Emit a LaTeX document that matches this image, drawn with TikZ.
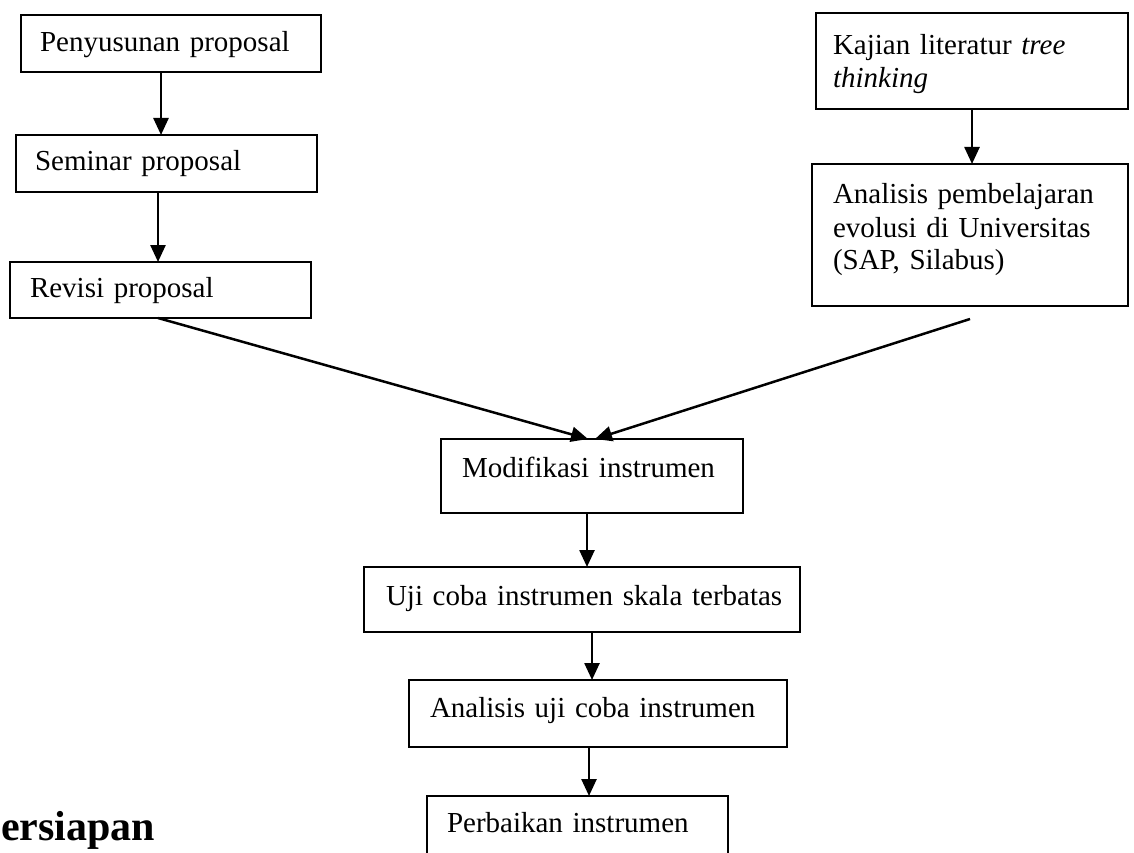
\documentclass[tikz,border=0pt]{standalone}
\usepackage{fontspec}
\setmainfont{Liberation Serif}
\usetikzlibrary{arrows.meta}

\tikzset{
  box/.style={draw, line width=1.6pt, anchor=north west, align=left,
    inner ysep=0pt, outer sep=0pt},
  arr/.style={line width=2.5pt, -{Triangle[length=17pt,width=15pt]}}
}

\begin{document}
\begin{tikzpicture}[x=1pt,y=-1pt,font=\fontsize{29}{33}\selectfont]
  \useasboundingbox (0,0) rectangle (1134,853);
  \clip (0,0) rectangle (1134,853);
  % left column
  \node[box, text width=262pt, inner xsep=19pt, text height=37pt, text depth=20pt] (pen) at (21,15) {Penyusunan proposal};
  \node[box, text width=263pt, inner xsep=19pt, text height=36pt, text depth=21pt] (sem) at (16,135) {Seminar proposal};
  \node[box, text width=261pt, inner xsep=20pt, text height=35pt, text depth=21pt] (rev) at (10,262) {Revisi proposal};
  % right column
  \node[box, text width=278pt, inner xsep=17pt, text height=42pt, text depth=54pt] (kaj) at (816,13) {Kajian literatur \textit{tree}\\\textit{thinking}};
  \node[box, text width=274pt, inner xsep=21pt, text height=40pt, text depth=102pt] (ana) at (812,164) {Analisis pembelajaran\\evolusi di Universitas\\(SAP, Silabus)};
  % middle column
  \node[box, text width=260pt, inner xsep=21pt, text height=38pt, text depth=36pt] (mod) at (441,439) {Modifikasi instrumen};
  \node[box, text width=392pt, inner xsep=22pt, text height=38pt, text depth=27pt] (uji) at (364,567) {\mbox{Uji coba instrumen skala terbatas}};
  \node[box, text width=336pt, inner xsep=21pt, text height=37pt, text depth=30pt] (aut) at (409,680) {Analisis uji coba instrumen};
  \node[box, text width=261pt, inner xsep=20pt, text height=36pt, text depth=44pt] (per) at (427,796) {Perbaikan instrumen};
  % heading
  \node[anchor=base west, inner sep=0pt, font=\bfseries\fontsize{42}{48}\selectfont] (judul) at (1,840) {ersiapan};
  % arrows
  \draw[arr] ([xshift=-10pt]pen.south) -- ([xshift=-5.5pt]sem.north);
  \draw[arr] ([xshift=-8.5pt]sem.south) -- ([xshift=-2.5pt]rev.north);
  \draw[arr] (kaj.south) -- ([xshift=2pt]ana.north);
  \draw[arr] ([xshift=-2.5pt]rev.south) -- ([xshift=-4pt]mod.north);
  \draw[arr] ([yshift=-13pt]ana.south) -- ([xshift=3pt]mod.north);
  \draw[arr] ([xshift=-5pt]mod.south) -- ([xshift=5pt]uji.north);
  \draw[arr] ([xshift=10pt]uji.south) -- ([xshift=-6pt]aut.north);
  \draw[arr] ([xshift=-9pt]aut.south) -- ([xshift=11.5pt]per.north);
\end{tikzpicture}
\end{document}
